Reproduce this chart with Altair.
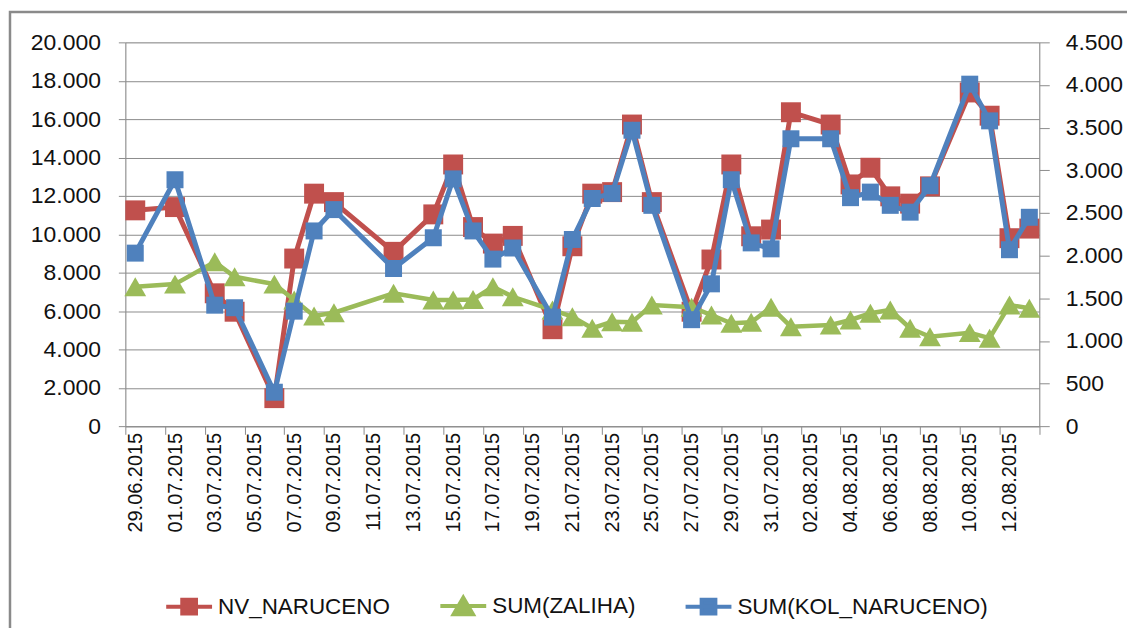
import altair as alt
import pandas as pd

# ---------------- data ----------------
tick_labels = ["29.06.2015", "01.07.2015", "03.07.2015", "05.07.2015", "07.07.2015",
               "09.07.2015", "11.07.2015", "13.07.2015", "15.07.2015", "17.07.2015",
               "19.07.2015", "21.07.2015", "23.07.2015", "25.07.2015", "27.07.2015",
               "29.07.2015", "31.07.2015", "02.08.2015", "04.08.2015", "06.08.2015",
               "08.08.2015", "10.08.2015", "12.08.2015"]

dates = ["29.06.2015", "01.07.2015", "03.07.2015", "04.07.2015", "06.07.2015", "07.07.2015",
         "08.07.2015", "09.07.2015", "12.07.2015", "14.07.2015", "15.07.2015", "16.07.2015",
         "17.07.2015", "18.07.2015", "20.07.2015", "21.07.2015", "22.07.2015", "23.07.2015",
         "24.07.2015", "25.07.2015", "27.07.2015", "28.07.2015", "29.07.2015", "30.07.2015",
         "31.07.2015", "01.08.2015", "03.08.2015", "04.08.2015", "05.08.2015", "06.08.2015",
         "07.08.2015", "08.08.2015", "10.08.2015", "11.08.2015", "12.08.2015", "13.08.2015"]

nv_naruceno = [11250, 11420, 6930, 5970, 1470, 8740, 12120, 11680, 9090, 11040, 13640, 10380,
               9520, 9920, 5060, 9380, 12120, 12200, 15720, 11680, 5970, 8690, 13640, 9900,
               10250, 16360, 15720, 12600, 13470, 11980, 11600, 12500, 17390, 16180, 9800, 10300]

sum_zaliha = [7270, 7410, 8570, 7790, 7410, 6580, 5750, 5920, 6930, 6580, 6580, 6610,
              7270, 6750, 6060, 5710, 5110, 5450, 5420, 6320, 6200, 5800, 5370, 5420,
              6200, 5190, 5280, 5540, 5890, 6060, 5110, 4670, 4880, 4590, 6320, 6150]

sum_kol_naruceno = [2030, 2890, 1420, 1390, 400, 1350, 2290, 2540, 1850, 2210, 2900, 2290,
                    1960, 2090, 1280, 2190, 2670, 2730, 3470, 2590, 1250, 1670, 2890, 2150,
                    2080, 3370, 3370, 2680, 2745, 2590, 2510, 2820, 4010, 3580, 2070, 2450]

series_names = ["NV_NARUCENO", "SUM(ZALIHA)", "SUM(KOL_NARUCENO)"]
series_colors = ["#C0504D", "#9BBB59", "#4F81BD"]

# ---------------- tables ----------------
start = pd.Timestamp(2015, 6, 29)
day = [(pd.to_datetime(d, format="%d.%m.%Y") - start).days for d in dates]


def frame(vals, name):
    return pd.DataFrame({"day": day, "date": dates, "value": vals, "series": name})


df_red = frame(nv_naruceno, series_names[0])
df_green = frame(sum_zaliha, series_names[1])
df_blue = frame(sum_kol_naruceno, series_names[2])

FONT = "Liberation Sans"
GRID = "#8C8C8C"
TEXT = "#111111"

n_days = 46
x_ticks = [i - 0.5 for i in range(0, n_days + 1, 2)]
label_array = "[" + ",".join("'%s'" % t for t in tick_labels) + "]"
x_label_expr = "%s[round((datum.value + 0.5) / 2)] || ''" % label_array

x_enc = alt.X(
    "day:Q",
    scale=alt.Scale(domain=[-0.5, n_days - 0.5], nice=False, zero=False),
    axis=alt.Axis(
        values=x_ticks, labelExpr=x_label_expr, labelAngle=270, labelAlign="right",
        labelBaseline="middle", labelOffset=10, labelPadding=-2, tickSize=8,
        tickColor=GRID, domainColor=GRID, labelFont=FONT, labelFontSize=20,
        labelColor=TEXT, grid=False, title=None, labelOverlap=False,
    ),
)

fmt_expr = "replace(format(datum.value, ','), ',', '.')"

y_left = alt.Y(
    "value:Q",
    scale=alt.Scale(domain=[0, 20000], nice=False),
    axis=alt.Axis(
        orient="left", values=list(range(0, 20001, 2000)), labelExpr=fmt_expr,
        tickSize=7, labelPadding=18, tickColor=GRID, domainColor=GRID,
        grid=True, gridColor=GRID, gridWidth=1, labelFont=FONT, labelFontSize=23,
        labelColor=TEXT, title=None,
    ),
)

y_right = alt.Y(
    "value:Q",
    scale=alt.Scale(domain=[0, 4500], nice=False),
    axis=alt.Axis(
        orient="right", values=list(range(0, 4501, 500)), labelExpr=fmt_expr,
        tickSize=10, labelPadding=16, tickColor=GRID, domainColor=GRID,
        grid=False, labelFont=FONT, labelFontSize=23, labelColor=TEXT, title=None,
    ),
)

sq_path = "M-1,0H1M-0.3,-0.3H0.3V0.3H-0.3Z"
tri_path = "M-1,0H1M0,-0.36L0.42,0.36H-0.42Z"

legend = alt.Legend(
    orient="none", legendX=39, legendY=540, direction="horizontal", title=None,
    symbolSize=2116, symbolStrokeWidth=4, symbolOpacity=1,
    labelFont=FONT, labelFontSize=22.5, labelLimit=0,
    labelColor=TEXT, labelOffset=4, columnPadding=42, padding=0,
)

color_scale = alt.Scale(domain=series_names, range=series_colors)
shape_scale = alt.Scale(domain=series_names, range=[sq_path, tri_path, sq_path])


def line_layer(df, y, width, color):
    return alt.Chart(df).mark_line(strokeWidth=width, color=color).encode(x=x_enc, y=y)


def point_layer(df, y, shape, size, color):
    return alt.Chart(df).mark_point(shape=shape, size=size, filled=True, opacity=1,
                                    color=color).encode(x=x_enc, y=y)


left = alt.layer(
    line_layer(df_red, y_left, 5, series_colors[0]),
    point_layer(df_red, y_left, "square", 400, series_colors[0]),
    line_layer(df_green, y_left, 4.5, series_colors[1]),
    point_layer(df_green, y_left, "triangle-up", 480, series_colors[1]),
)

right = alt.layer(
    line_layer(df_blue, y_right, 5, series_colors[2]),
    point_layer(df_blue, y_right, "square", 290, series_colors[2]),
)

# legend-only layer (no rows survive the filter; entries come from the scale domains)
legend_layer = alt.Chart(df_red).transform_filter("datum.value < 0").mark_point(
    filled=True, opacity=1, strokeWidth=4
).encode(
    fill=alt.Fill("series:N", scale=color_scale, legend=legend),
    stroke=alt.Stroke("series:N", scale=color_scale, legend=legend),
    shape=alt.Shape("series:N", scale=shape_scale, legend=legend),
)

border = alt.Chart(pd.DataFrame({"k": [0]})).mark_rect(
    fill="transparent", stroke="#8A8A8A", strokeWidth=2.5
).encode(x=alt.value(-115.7), x2=alt.value(1400), y=alt.value(-30.5), y2=alt.value(900))

chart = (
    alt.layer(border, left, right, legend_layer)
    .resolve_scale(y="independent")
    .properties(
        width=916.8, height=385.2,
        autosize=alt.AutoSizeParams(type="none"),
        padding={"left": 117.7, "top": 33.5, "right": 88, "bottom": 201},
    )
    .configure_view(stroke=None)
    .configure(background="white")
)

chart.save("out.html", embed_options={"renderer": "svg", "actions": False})
